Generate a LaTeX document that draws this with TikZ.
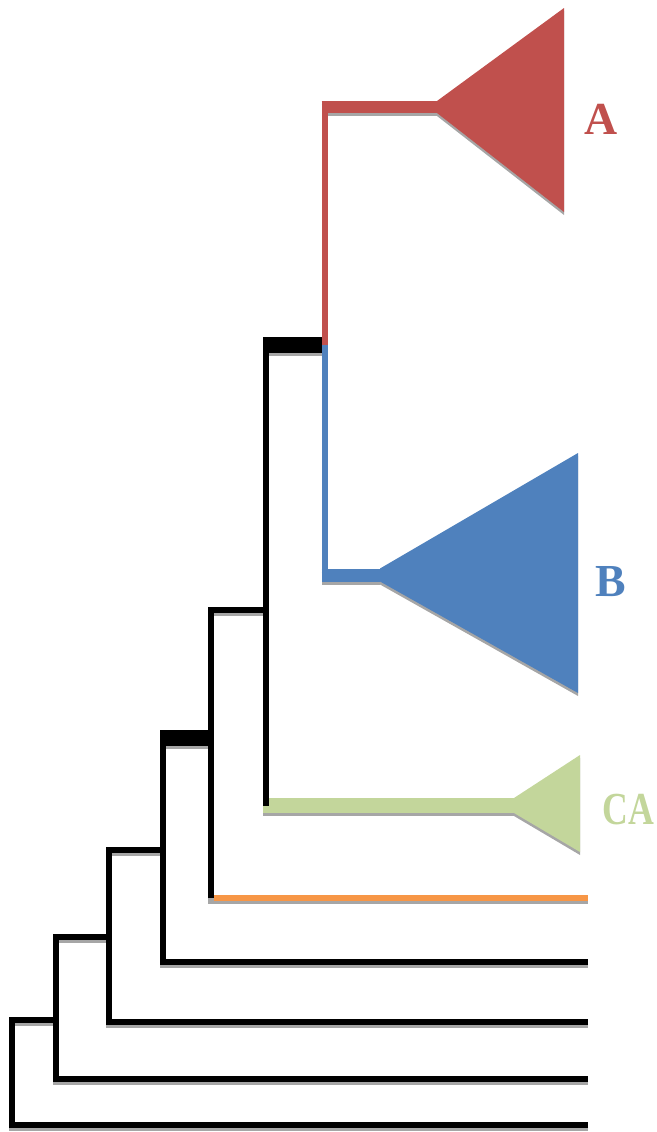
\documentclass[tikz,border=0pt]{standalone}
\usepackage{fontspec}
\setmainfont{Liberation Serif}
\usetikzlibrary{calc}
\definecolor{cladeA}{HTML}{C0504D}
\definecolor{cladeB}{HTML}{4F81BD}
\definecolor{cladeCA}{HTML}{C3D69B}
\definecolor{leafO}{HTML}{F79646}
\tikzset{
  shadowed/.style={line width=#1, preaction={draw=black!35, line width=#1, transform canvas={yshift=-3bp}}},
  shadowfill/.style={preaction={fill=black!35, transform canvas={yshift=-3bp}}},
  branch/.style={draw=black, shadowed=6bp},
  thickbar/.style={draw=black, shadowed=16bp},
  cladeline/.style={draw=#1},
  cladelabel/.style={font=\bfseries\fontsize{46}{46}\selectfont, inner sep=0pt, anchor=base}
}
\begin{document}
\begin{tikzpicture}[x=1bp, y=-1bp, line join=miter]
\useasboundingbox (0,0) rectangle (657,1132);
% inner nodes
\coordinate (r)  at (12,1020);
\coordinate (n1) at (56,937);
\coordinate (n2) at (109,850);
\coordinate (n3) at (163,738);
\coordinate (n4) at (211,610);
\coordinate (n5) at (266,345);
\coordinate (n6) at (324.5,345);
% leaf ends
\coordinate (l1) at (588,1125);
\coordinate (l2) at (588,1079);
\coordinate (l3) at (588,1022);
\coordinate (l4) at (588,962);
\coordinate (l5) at (588,898);
\coordinate (aTip) at (437,107);
\coordinate (bTip) at (380,575);
\coordinate (caTip) at (514,805.5);
% collapsed clades
\fill[cladeA, shadowfill] (437,101) -- (564,8) -- (564,212) -- (437,113) -- cycle;
\fill[cladeB, shadowfill] (380,568.5) -- (578,453) -- (578,693) -- (380,581.5) -- cycle;
\fill[cladeCA, shadowfill] (514,798) -- (580,755) -- (580,852) -- (514,813) -- cycle;
% backbone
\draw[branch] (l1) -| (r) -- (r -| n1);
\draw[branch] (l2) -| (n1) -- (n1 -| n2);
\draw[branch] (l3) -| (n2) -- (n2 -| n3);
\draw[thickbar] ($(n3)+(-3,0)$) -- ($(n3 -| n4)+(3,0)$);
\draw[branch] (l4) -| (n3);
\draw[cladeline=leafO, shadowed=6bp] ($(n4 |- l5)+(-3,0)$) -- (l5);
\draw[branch] (n4 |- l5) -- (n4) -- (n4 -| n5);
\draw[cladeline=cladeCA, shadowed=15bp] ($(n5 |- caTip)+(-3,0)$) -- (caTip);
\draw[thickbar] ($(n5)+(-3,0)$) -- ($(n6)+(-3,0)$);
\draw[draw=black, line width=6bp] (n5 |- caTip) -- (n5);
\draw[cladeline=cladeA, shadowed=12bp] ($(n6 |- aTip)+(-3,0)$) -- (aTip);
\draw[cladeline=cladeB, shadowed=13bp] ($(n6 |- bTip)+(-3,0)$) -- (bTip);
\draw[cladeline=cladeA, line width=6bp] (n6) -- (n6 |- aTip);
\draw[cladeline=cladeB, line width=6bp] (n6) -- (n6 |- bTip);
% labels
\node[cladelabel, text=cladeA] (labA) at (601,134) {A};
\node[cladelabel, text=cladeB] (labB) at (611,596) {B};
\node[cladelabel, text=cladeCA] (labCA) at (628,824) {\scalebox{0.78}[1]{CA}};
\end{tikzpicture}
\end{document}
